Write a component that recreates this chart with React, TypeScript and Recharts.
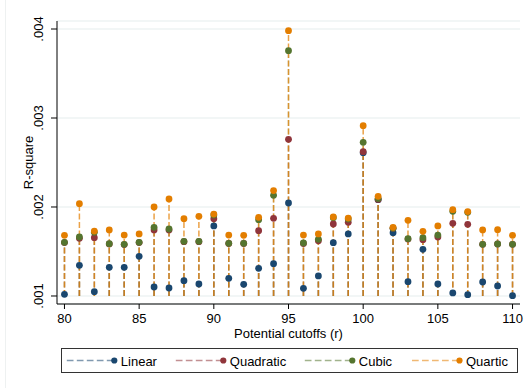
import React from 'react';
import { ScatterChart, Scatter, XAxis, YAxis, CartesianGrid, ReferenceLine, Label } from 'recharts';

const cutoffs = [80, 81, 82, 83, 84, 85, 86, 87, 88, 89, 90, 91, 92, 93, 94, 95, 96, 97, 98, 99, 100, 101, 102, 103, 104, 105, 106, 107, 108, 109, 110];

const linear = [0.001019, 0.001345, 0.001049, 0.001322, 0.001322, 0.001446, 0.001101, 0.00109, 0.001172, 0.001135,
  0.001787, 0.001199, 0.001131, 0.001311, 0.001363, 0.002045, 0.001086, 0.001225, 0.001599, 0.001697,
  0.00261, 0.002082, 0.001712, 0.001161, 0.001524, 0.001135, 0.001034, 0.001015, 0.001157, 0.001112, 0.001004];

const quadratic = [0.0016, 0.001648, 0.001655, 0.001585, 0.001578, 0.0016, 0.001742, 0.001742, 0.00161, 0.00161,
  0.001869, 0.00159, 0.00159, 0.001734, 0.001873, 0.00276, 0.00159, 0.001622, 0.001809, 0.001828,
  0.002622, 0.002085, 0.00176, 0.00164, 0.001633, 0.001663, 0.001816, 0.001805, 0.00158, 0.001584, 0.00158];

const cubic = [0.001603, 0.001663, 0.001715, 0.001588, 0.00158, 0.001603, 0.001772, 0.001753, 0.001614, 0.001614,
  0.00191, 0.001592, 0.001592, 0.001858, 0.002131, 0.003757, 0.001596, 0.001637, 0.00188, 0.001865,
  0.002727, 0.002095, 0.001762, 0.001644, 0.001655, 0.001685, 0.001951, 0.00194, 0.00158, 0.001584, 0.00158];

const quartic = [0.001682, 0.002037, 0.00173, 0.001742, 0.001685, 0.001697, 0.002, 0.00209, 0.001869, 0.001895,
  0.001921, 0.001685, 0.001682, 0.001884, 0.002184, 0.003981, 0.001685, 0.001697, 0.001888, 0.001876,
  0.002914, 0.00212, 0.001772, 0.00185, 0.001727, 0.001787, 0.00197, 0.001948, 0.001742, 0.001745, 0.001682];

const xTicks = [80, 85, 90, 95, 100, 105, 110];
const yTicks = [0.001, 0.002, 0.003, 0.004];
const yTickLabels = ['.001', '.002', '.003', '.004'];
const baseline = 0.001;

const series = [
  { key: 'linear', name: 'Linear', values: linear, color: '#1a476f', stemOpacity: 0.4 },
  { key: 'quadratic', name: 'Quadratic', values: quadratic, color: '#90353b', stemOpacity: 0.4 },
  { key: 'cubic', name: 'Cubic', values: cubic, color: '#55752f', stemOpacity: 0.4 },
  { key: 'quartic', name: 'Quartic', values: quartic, color: '#e37e00', stemOpacity: 0.72 },
];

const rows = cutoffs.map((x, i) => {
  const r: any = { x };
  series.forEach((s) => {
    r[s.key] = s.values[i];
  });
  return r;
});

const FONT = '"Liberation Sans", Arial, Helvetica, sans-serif';

const YTick = (props: any) => {
  const { x, y, payload } = props;
  const idx = yTicks.indexOf(payload.value);
  const label = idx >= 0 ? yTickLabels[idx] : String(payload.value);
  return (
    <text x={x} y={y} transform={`rotate(-90, ${x}, ${y})`} textAnchor="middle" fontSize={13} fill="#000" fontFamily={FONT}>
      {label}
    </text>
  );
};

const legendDots = [114.3, 223.3, 352.3, 459.5];

export default function App() {
  return (
    <div style={{ position: 'absolute', left: 0, top: 0, width: 524, height: 388, background: '#fff', fontFamily: FONT, overflow: 'hidden' }}>
      <div style={{ position: 'absolute', left: 5, top: -2, width: 530, height: 400, borderLeft: '1px solid #eef1f1' }} />
      <ScatterChart width={524} height={388} margin={{ top: 21, right: 4, bottom: 44, left: 0 }} style={{ position: 'absolute', left: 0, top: 0 }}>
        <CartesianGrid horizontal={true} vertical={false} stroke="#e5eded" strokeWidth={1} />
        <XAxis
          type="number"
          dataKey="x"
          domain={[79.5, 110.5]}
          ticks={xTicks}
          interval={0}
          height={40}
          tickSize={5}
          tickMargin={5}
          axisLine={{ stroke: '#000', strokeWidth: 1 }}
          tickLine={{ stroke: '#000', strokeWidth: 1 }}
          tick={{ fontSize: 13, fill: '#000', fontFamily: FONT }}
          allowDataOverflow
        >
          <Label
            content={(p: any) => {
              const vb = p.viewBox || { x: 0, y: 304, width: 463 };
              return (
                <text x={vb.x + vb.width / 2} y={vb.y + 33.5} textAnchor="middle" fontSize={13} fill="#000" fontFamily={FONT}>
                  Potential cutoffs (r)
                </text>
              );
            }}
          />
        </XAxis>
        <YAxis
          type="number"
          domain={[0.00091, 0.00409]}
          ticks={yTicks}
          interval={0}
          width={57}
          tickSize={6}
          tickMargin={8}
          axisLine={{ stroke: '#000', strokeWidth: 1 }}
          tickLine={{ stroke: '#000', strokeWidth: 1 }}
          tick={<YTick />}
          allowDataOverflow
        >
          <Label
            content={(p: any) => {
              const vb = p.viewBox || { x: 0, y: 21, width: 57, height: 283 };
              const cx = vb.x + 32.5;
              const cy = vb.y + vb.height / 2;
              return (
                <text x={cx} y={cy} transform={`rotate(-90, ${cx}, ${cy})`} textAnchor="middle" fontSize={13} fill="#000" fontFamily={FONT}>
                  R-square
                </text>
              );
            }}
          />
        </YAxis>
        {series.map((s) =>
          cutoffs.map((c, i) => (
            <ReferenceLine
              key={s.key + '-stem-' + c}
              segment={[{ x: c, y: baseline }, { x: c, y: s.values[i] }]}
              stroke={s.color}
              strokeWidth={1.5}
              strokeOpacity={s.stemOpacity}
              strokeDasharray="6 2.5"
              ifOverflow="visible"
            />
          ))
        )}
        {series.map((s) => (
          <Scatter
            key={s.key}
            name={s.name}
            data={rows}
            dataKey={s.key}
            isAnimationActive={false}
            shape={(p: any) => <circle cx={p.cx} cy={p.cy} r={3.4} fill={s.color} />}
          />
        ))}
      </ScatterChart>
      <svg width={524} height={388} style={{ position: 'absolute', left: 0, top: 0, pointerEvents: 'none' }}>
        <rect x={61.5} y={348.5} width={456} height={24} fill="#fff" stroke="#333" strokeWidth={1} />
        {series.map((s, i) => {
          const d = legendDots[i];
          return (
            <g key={s.key}>
              <line x1={d - 47.5} y1={360.5} x2={d} y2={360.5} stroke={s.color} strokeOpacity={0.55} strokeWidth={1.4} strokeDasharray="6.7 3.3" />
              <circle cx={d} cy={360.5} r={3.1} fill={s.color} />
              <text x={d + 6.5} y={365.5} fontSize={13} fill="#000" fontFamily={FONT}>{s.name}</text>
            </g>
          );
        })}
      </svg>
    </div>
  );
}
